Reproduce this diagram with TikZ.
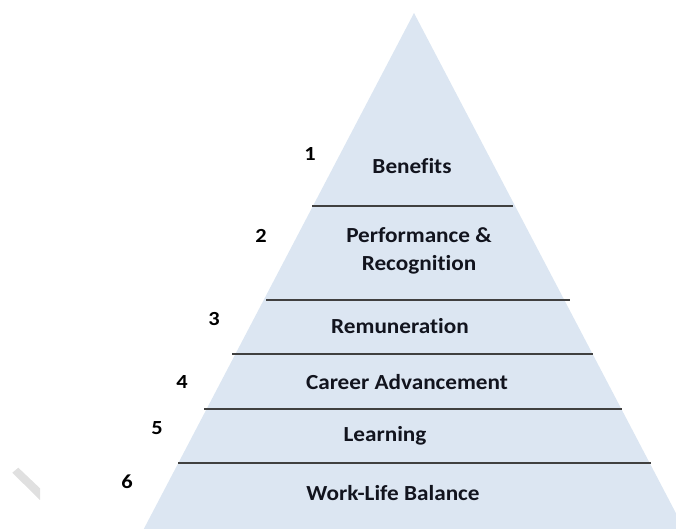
\documentclass[tikz,border=0pt]{standalone}
\usepackage{fontspec}
\setmainfont{Carlito}[Ligatures=NoCommon]
\begin{document}
\begin{tikzpicture}[x=1pt,y=-1pt,
  tier/.style={draw=black!75,line width=1.4pt},
  label/.style={font=\fontsize{21.5}{28}\selectfont\bfseries,text={rgb,255:red,18;green,20;blue,30},align=center,inner sep=0pt,xscale=1.08},
  num/.style={font=\fontsize{20}{22}\selectfont\bfseries,text=black,inner sep=0pt,xscale=1.12}]
\useasboundingbox (0,0) rectangle (676,528);
\begin{scope}
\clip (0,0) rectangle (676,528);
% pyramid body
\fill[fill={rgb,255:red,220;green,230;blue,242}] (414,13) -- (690,540) -- (138,540) -- cycle;
% faint stroke at the lower left
\fill[black!12] (12.3,472.7) -- (18.3,467.7) -- (40,488.3) -- (40,500) -- cycle;
\end{scope}
% tier dividers
\coordinate (l1a) at (312,206); \coordinate (l1b) at (513,206);
\coordinate (l2a) at (266,300); \coordinate (l2b) at (570,300);
\coordinate (l3a) at (232,354); \coordinate (l3b) at (593,354);
\coordinate (l4a) at (204,409); \coordinate (l4b) at (622,409);
\coordinate (l5a) at (178,463); \coordinate (l5b) at (651,463);
\draw[tier] (l1a) -- (l1b);
\draw[tier] (l2a) -- (l2b);
\draw[tier] (l3a) -- (l3b);
\draw[tier] (l4a) -- (l4b);
\draw[tier] (l5a) -- (l5b);
% tier labels
\node[label] (t1) at (412,166) {Benefits};
\node[label] (t2) at (419,251) {Performance \&\\Recognition};
\node[label] (t3) at (400,326) {Remuneration};
\node[label] (t4) at (407,382) {Career Advancement};
\node[label] (t5) at (385,436) {Learning};
\node[label] (t6) at (393,493) {Work-Life Balance};
% tier numbers
\node[num] (n1) at (310,154) {1};
\node[num] (n2) at (261,236) {2};
\node[num] (n3) at (214,319) {3};
\node[num] (n4) at (182,382) {4};
\node[num] (n5) at (157,428) {5};
\node[num] (n6) at (127,482) {6};
\end{tikzpicture}
\end{document}
